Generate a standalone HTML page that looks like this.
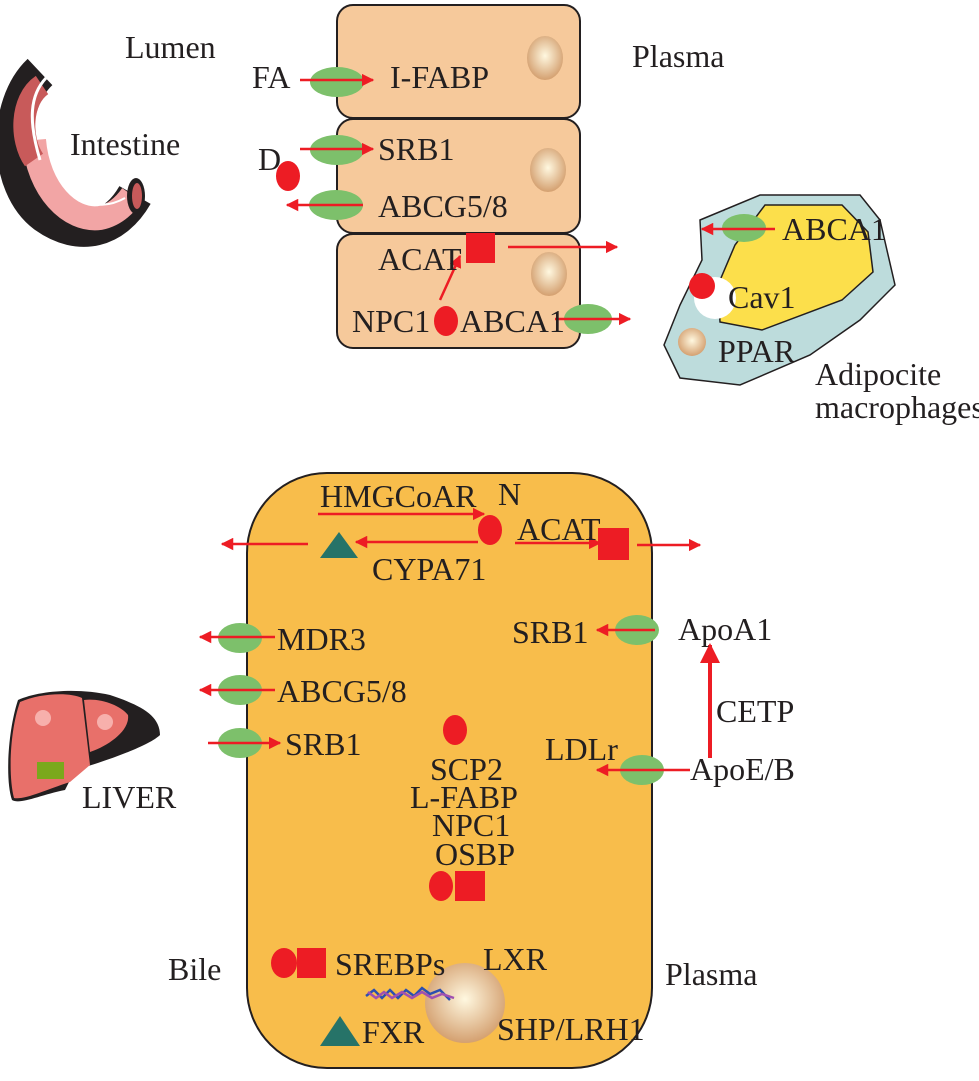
<!DOCTYPE html>
<html><head><meta charset="utf-8"><style>
html,body{margin:0;padding:0;background:#fff;}
svg text{font-family:"Liberation Serif",serif;font-size:32px;fill:#231f20;}
</style></head><body>
<svg width="979" height="1076" viewBox="0 0 979 1076" xmlns="http://www.w3.org/2000/svg">
<defs>
<marker id="a" viewBox="0 0 10 10" refX="9" refY="5" markerWidth="5" markerHeight="5" orient="auto"><path d="M0,0L10,5L0,10z" fill="#ed1c24"/></marker>
<radialGradient id="nuc" cx="50%" cy="45%" r="55%"><stop offset="0" stop-color="#fff8e0"/><stop offset="1" stop-color="#d4a070"/></radialGradient>
</defs>
<g stroke="#231f20" stroke-width="2" fill="#f6c99b">
<rect x="337" y="5" width="243" height="113" rx="16"/>
<rect x="337" y="119" width="243" height="114" rx="16"/>
<rect x="337" y="234" width="243" height="114" rx="16"/>
</g>
<ellipse cx="545" cy="58" rx="18" ry="22" fill="url(#nuc)"/>
<ellipse cx="548" cy="170" rx="18" ry="22" fill="url(#nuc)"/>
<ellipse cx="549" cy="274" rx="18" ry="22" fill="url(#nuc)"/>
<!-- intestine -->
<path d="M40,72 C5,105 5,185 45,215 C80,240 115,230 135,195" stroke="#231f20" stroke-width="36" fill="none"/>
<path d="M34,140 C38,190 70,222 100,218 C115,215 125,205 132,195" stroke="#f2a5a5" stroke-width="24" fill="none"/>
<path d="M42,85 C20,100 20,140 34,160" stroke="#c85a5a" stroke-width="22" fill="none"/>
<path d="M46,78 C30,95 28,120 40,160" stroke="#fff" stroke-width="3" fill="none"/>
<path d="M52,150 C60,200 95,215 125,198" stroke="#fff" stroke-width="2" fill="none"/>
<ellipse cx="136" cy="196" rx="9" ry="18" fill="#231f20"/>
<ellipse cx="137" cy="196" rx="5" ry="13" fill="#c85a5a"/>
<g fill="#7dc06b">
<ellipse cx="337" cy="82" rx="27" ry="15"/>
<ellipse cx="337" cy="150" rx="27" ry="15"/>
<ellipse cx="336" cy="205" rx="27" ry="15"/>
<ellipse cx="588" cy="319" rx="24" ry="15"/>
</g>
<g stroke="#ed1c24" stroke-width="2.5" marker-end="url(#a)" fill="none">
<line x1="300" y1="80" x2="373" y2="80"/>
<line x1="300" y1="149" x2="373" y2="149"/>
<line x1="363" y1="205" x2="287" y2="205"/>
<line x1="508" y1="247" x2="617" y2="247"/>
<line x1="440" y1="300" x2="460" y2="256"/>
<line x1="555" y1="319" x2="630" y2="319"/>
</g>
<ellipse cx="288" cy="176" rx="12" ry="15" fill="#ed1c24"/>
<rect x="466" y="233" width="29" height="30" fill="#ed1c24"/>
<ellipse cx="446" cy="321" rx="12" ry="15" fill="#ed1c24"/>
<text x="125" y="58">Lumen</text>
<text x="632" y="67">Plasma</text>
<text x="70" y="155">Intestine</text>
<text x="252" y="88">FA</text>
<text x="390" y="88">I-FABP</text>
<text x="378" y="160">SRB1</text>
<text x="258" y="170">D</text>
<text x="378" y="217">ABCG5/8</text>
<text x="378" y="270">ACAT</text>
<text x="352" y="332">NPC1</text>
<text x="460" y="332">ABCA1</text>
<!-- adipocyte -->
<path d="M700,220 L760,195 L860,195 L880,220 L895,285 L860,320 L810,355 L740,385 L680,378 L664,345 L680,305 L702,260 Z" fill="#bddcdc" stroke="#231f20" stroke-width="1.5"/>
<path d="M765,205 L842,205 L868,232 L873,272 L842,300 L762,330 L720,322 L718,285 L735,245 Z" fill="#fcdf4b" stroke="#231f20" stroke-width="1.5"/>
<circle cx="715" cy="298" r="21" fill="#fff"/>
<circle cx="702" cy="286" r="13" fill="#ed1c24"/>
<ellipse cx="744" cy="228" rx="22" ry="14" fill="#7dc06b"/>
<line x1="775" y1="229" x2="702" y2="229" stroke="#ed1c24" stroke-width="2.5" marker-end="url(#a)"/>
<circle cx="692" cy="342" r="14" fill="url(#nuc)"/>
<text x="782" y="240">ABCA1</text>
<text x="728" y="308">Cav1</text>
<text x="718" y="362">PPAR</text>
<text x="815" y="385">Adipocite</text>
<text x="815" y="418">macrophages</text>
<!-- liver cell -->
<rect x="247" y="473" width="405" height="595" rx="80" fill="#f8bd4b" stroke="#231f20" stroke-width="2"/>
<g fill="#7dc06b">
<ellipse cx="240" cy="638" rx="22" ry="15"/>
<ellipse cx="240" cy="690" rx="22" ry="15"/>
<ellipse cx="240" cy="743" rx="22" ry="15"/>
<ellipse cx="637" cy="630" rx="22" ry="15"/>
<ellipse cx="642" cy="770" rx="22" ry="15"/>
</g>
<g stroke="#ed1c24" stroke-width="2.5" marker-end="url(#a)" fill="none">
<line x1="318" y1="514" x2="484" y2="514"/>
<line x1="478" y1="542" x2="356" y2="542"/>
<line x1="308" y1="544" x2="222" y2="544"/>
<line x1="515" y1="543" x2="600" y2="543"/>
<line x1="637" y1="545" x2="700" y2="545"/>
<line x1="275" y1="637" x2="200" y2="637"/>
<line x1="275" y1="690" x2="200" y2="690"/>
<line x1="208" y1="743" x2="280" y2="743"/>
<line x1="655" y1="630" x2="597" y2="630"/>
<line x1="690" y1="770" x2="597" y2="770"/>
<line x1="710" y1="758" x2="710" y2="645" stroke-width="4"/>
</g>
<ellipse cx="490" cy="530" rx="12" ry="15" fill="#ed1c24"/>
<rect x="598" y="528" width="31" height="32" fill="#ed1c24"/>
<polygon points="320,558 339,532 358,558" fill="#267368"/>
<ellipse cx="455" cy="730" rx="12" ry="15" fill="#ed1c24"/>
<ellipse cx="441" cy="886" rx="12" ry="15" fill="#ed1c24"/>
<rect x="455" y="871" width="30" height="30" fill="#ed1c24"/>
<ellipse cx="284" cy="963" rx="13" ry="15" fill="#ed1c24"/>
<rect x="297" y="948" width="29" height="30" fill="#ed1c24"/>
<circle cx="465" cy="1003" r="40" fill="url(#nuc)"/>
<path d="M366,996 l8,-6 l8,8 l8,-8 l8,8 l8,-8 l8,6 l8,-8 l8,6 l10,-4 l10,10" stroke="#2b4fb0" stroke-width="2.5" fill="none"/>
<path d="M368,992 l8,6 l8,-6 l8,6 l10,-6 l10,6 l10,-6 l10,6 l10,-4 l12,4" stroke="#a050b0" stroke-width="2.5" fill="none"/>
<polygon points="320,1046 340,1016 360,1046" fill="#267368"/>
<text x="320" y="507">HMGCoAR</text>
<text x="498" y="505">N</text>
<text x="517" y="540">ACAT</text>
<text x="372" y="580">CYPA71</text>
<text x="277" y="650">MDR3</text>
<text x="277" y="702">ABCG5/8</text>
<text x="285" y="755">SRB1</text>
<text x="512" y="643">SRB1</text>
<text x="678" y="640">ApoA1</text>
<text x="716" y="722">CETP</text>
<text x="545" y="760">LDLr</text>
<text x="690" y="780">ApoE/B</text>
<text x="430" y="780">SCP2</text>
<text x="410" y="808">L-FABP</text>
<text x="432" y="836">NPC1</text>
<text x="435" y="865">OSBP</text>
<text x="335" y="975">SREBPs</text>
<text x="483" y="970">LXR</text>
<text x="362" y="1043">FXR</text>
<text x="497" y="1040">SHP/LRH1</text>
<text x="168" y="980">Bile</text>
<text x="665" y="985">Plasma</text>
<text x="82" y="808">LIVER</text>
<!-- liver icon -->
<path d="M18,700 C40,690 80,688 110,695 C140,705 160,715 160,735 C150,745 110,760 75,770 L65,790 C40,795 20,805 12,800 C5,780 8,730 18,700Z" fill="#231f20"/>
<path d="M20,702 C40,693 70,692 82,698 L90,765 L70,782 C45,790 25,800 14,798 C8,775 10,730 20,702Z" fill="#e8706a"/>
<path d="M84,700 C100,698 120,705 128,715 C130,730 110,745 90,752Z" fill="#e8706a"/>
<circle cx="43" cy="718" r="8" fill="#f7b0ac"/>
<circle cx="105" cy="722" r="8" fill="#f7b0ac"/>
<rect x="37" y="762" width="27" height="17" fill="#7aa81c"/>
</svg>
</body></html>
